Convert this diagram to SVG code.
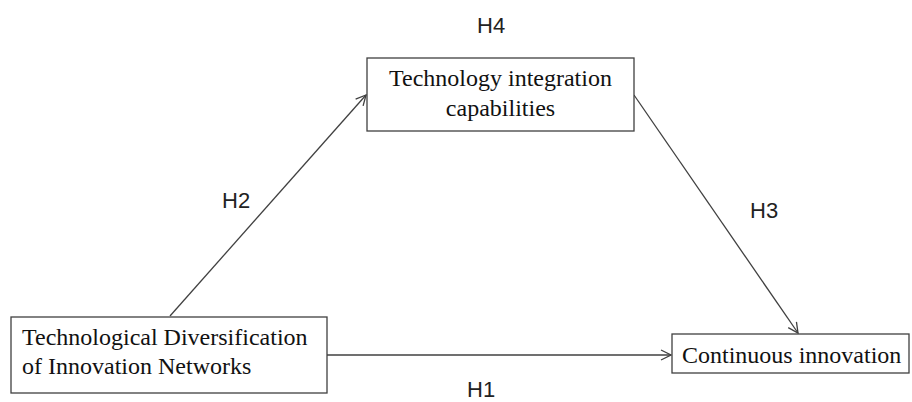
<svg xmlns="http://www.w3.org/2000/svg" width="912" height="402" viewBox="0 0 912 402">
  <style>
    .box { fill: #ffffff; stroke: #404040; stroke-width: 1.3; }
    .serif { font-family: "Liberation Serif", "Times New Roman", serif; font-size: 24px; fill: #111111; }
    .lbl { font-family: "Liberation Sans", Arial, sans-serif; font-size: 22px; fill: #222222; }
    .edge { stroke: #404040; stroke-width: 1.3; fill: none; marker-end: url(#arrow); }
  </style>
  <defs>
    <marker id="arrow" viewBox="0 0 12 12" refX="11" refY="6" markerWidth="12" markerHeight="12" markerUnits="userSpaceOnUse" orient="auto">
      <path d="M1,1 L11,6 L1,11" fill="none" stroke="#404040" stroke-width="1.3"/>
    </marker>
  </defs>
  <rect width="912" height="402" fill="#ffffff"/>

  <g id="connectors">
    <line class="edge" x1="170" y1="316" x2="366" y2="95"/>
    <line class="edge" x1="634" y1="95" x2="798" y2="333"/>
    <line class="edge" x1="327" y1="355" x2="671" y2="355"/>
  </g>

  <g id="integration">
    <rect class="box" x="367" y="58" width="267" height="73"/>
    <text class="serif" x="500.5" y="86" text-anchor="middle">Technology integration</text>
    <text class="serif" x="500.5" y="116" text-anchor="middle">capabilities</text>
  </g>

  <g id="diversification">
    <rect class="box" x="11" y="317" width="316" height="76"/>
    <text class="serif" x="22" y="345">Technological Diversification</text>
    <text class="serif" x="22" y="374">of Innovation Networks</text>
  </g>

  <g id="continuous">
    <rect class="box" x="672" y="334" width="237" height="39"/>
    <text class="serif" x="682" y="363">Continuous innovation</text>
  </g>

  <g id="labels">
    <text class="lbl" x="477" y="33">H4</text>
    <text class="lbl" x="222" y="208">H2</text>
    <text class="lbl" x="750" y="218">H3</text>
    <text class="lbl" x="467" y="397">H1</text>
  </g>
</svg>
